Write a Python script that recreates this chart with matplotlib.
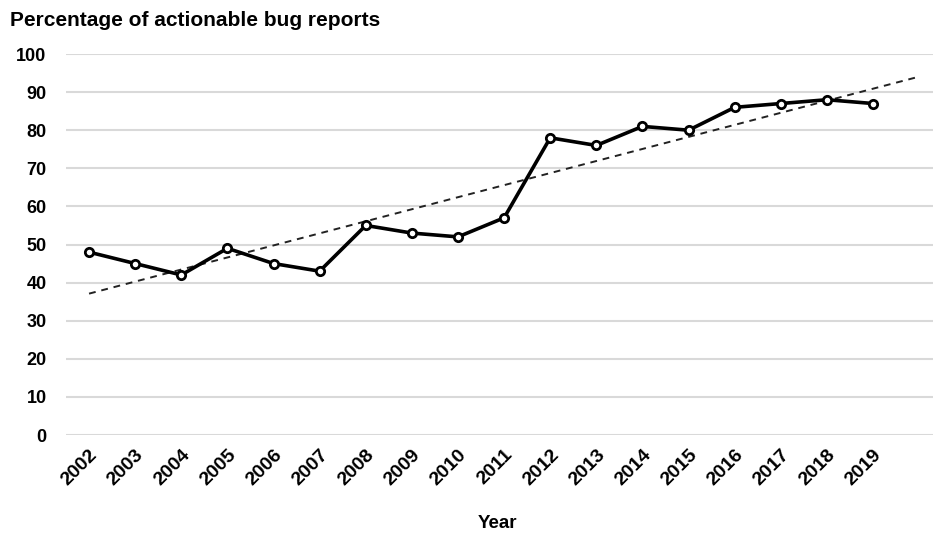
import matplotlib
matplotlib.use("Agg")
import matplotlib.pyplot as plt
import numpy as np

years = ["2002", "2003", "2004", "2005", "2006", "2007", "2008", "2009", "2010",
         "2011", "2012", "2013", "2014", "2015", "2016", "2017", "2018", "2019"]
actionable_pct = [48, 45, 42, 49, 45, 43, 55, 53, 52, 57, 78, 76, 81, 80, 86, 87, 88, 87]
y_ticks = [0, 10, 20, 30, 40, 50, 60, 70, 80, 90, 100]

plt.rcParams["font.family"] = ["Liberation Sans", "DejaVu Sans"]

fig = plt.figure(figsize=(9.33, 5.33), dpi=100)
ax = fig.add_axes([66 / 933, 1 - 435 / 533, (933 - 66) / 933, (435 - 54) / 533])

x = np.arange(len(years))

# linear trend, projected one period forward
slope, intercept = np.polyfit(x, actionable_pct, 1)
trend_x = np.array([0, len(years)])
ax.plot(trend_x, slope * trend_x + intercept, linestyle=(0, (3.5, 3)),
        color="#222222", linewidth=1.4, zorder=2)

ax.plot(x, actionable_pct, color="black", linewidth=2.6, marker="o",
        markersize=6, markerfacecolor="white", markeredgecolor="black",
        markeredgewidth=2.0, zorder=3)

ax.set_xlim(-0.5, 18.3)
ax.set_ylim(0, 100)
ax.set_yticks(y_ticks)
ax.set_yticklabels([str(v) for v in y_ticks], fontsize=13, fontweight="bold")
ax.set_xticks(x)
ax.set_xticklabels(years, rotation=45, ha="right", rotation_mode="anchor",
                   fontsize=14, fontweight="bold")
ax.tick_params(axis="both", length=0)
ax.tick_params(axis="y", pad=14)
ax.tick_params(axis="x", pad=8)

ax.grid(axis="y", color="#d9d9d9", linewidth=1.5, zorder=0)
ax.set_axisbelow(True)
for s in ax.spines.values():
    s.set_visible(False)

fig.text(10 / 933, 1 - 20 / 533, "Percentage of actionable bug reports",
         fontsize=15, fontweight="bold", va="center", ha="left")
fig.text(497 / 933, 1 - 523 / 533, "Year", fontsize=13.5, fontweight="bold",
         va="center", ha="center")

fig.savefig("out.png", dpi=100, facecolor="white")
